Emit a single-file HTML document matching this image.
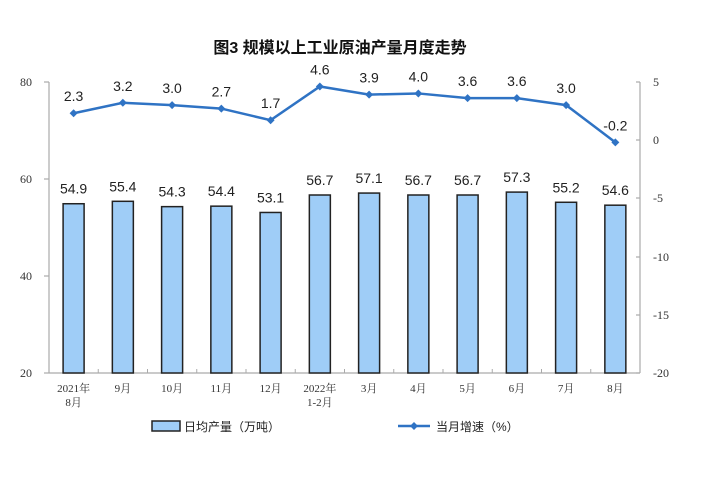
<!DOCTYPE html>
<html><head><meta charset="utf-8"><style>
body{margin:0;background:#fff}
svg text{font-family:"Liberation Sans","Noto Sans CJK SC",sans-serif}
svg .sf{font-family:"Liberation Serif","Noto Serif CJK SC",serif}
</style></head><body>
<svg width="718" height="473" xmlns="http://www.w3.org/2000/svg">
<text x="340" y="53" font-size="16" font-weight="bold" text-anchor="middle" fill="#111">图3  规模以上工业原油产量月度走势</text>
<g stroke="#aaa" stroke-width="1.2" fill="none">
<line x1="49" y1="82" x2="49" y2="373"/>
<line x1="49" y1="373" x2="640" y2="373"/>
<line x1="640" y1="82" x2="640" y2="373"/>
<line x1="44" y1="82" x2="49" y2="82"/><line x1="44" y1="179" x2="49" y2="179"/><line x1="44" y1="276" x2="49" y2="276"/><line x1="44" y1="373" x2="49" y2="373"/>
<line x1="636" y1="82" x2="640" y2="82"/><line x1="636" y1="140" x2="640" y2="140"/><line x1="636" y1="198" x2="640" y2="198"/><line x1="636" y1="257" x2="640" y2="257"/><line x1="636" y1="315" x2="640" y2="315"/><line x1="636" y1="373" x2="640" y2="373"/>
</g>
<g font-size="12" fill="#333" text-anchor="end">
<text class="sf" x="32" y="86">80</text><text class="sf" x="32" y="183">60</text><text class="sf" x="32" y="280">40</text><text class="sf" x="32" y="377">20</text>
</g>
<g font-size="12" fill="#333" text-anchor="start">
<text class="sf" x="653" y="86">5</text><text class="sf" x="653" y="144">0</text><text class="sf" x="653" y="202">-5</text><text class="sf" x="653" y="261">-10</text><text class="sf" x="653" y="319">-15</text><text class="sf" x="653" y="377">-20</text>
</g>
<g id="bars" fill="#9fcdf7" stroke="#222" stroke-width="1.5"></g>
<g id="lbl" font-size="14" fill="#222" text-anchor="middle"></g>
<g id="xl" font-size="11" fill="#333" text-anchor="middle"></g>
<polyline id="ln" fill="none" stroke="#2f73c4" stroke-width="2.5"/>
<g id="mk" fill="#2f73c4"></g>
<rect x="152" y="421" width="28" height="10" fill="#9fcdf7" stroke="#222" stroke-width="1.5"/>
<text x="184" y="431" font-size="12" fill="#222">日均产量（万吨）</text>
<line x1="398" y1="426" x2="430" y2="426" stroke="#2f73c4" stroke-width="2.5"/>
<path d="M414 422l4 4-4 4-4-4z" fill="#2f73c4"/>
<text x="436" y="431" font-size="12" fill="#222">当月增速（%）</text>
</svg>
<script>
var b=[54.9,55.4,54.3,54.4,53.1,56.7,57.1,56.7,56.7,57.3,55.2,54.6];
var g=[2.3,3.2,3.0,2.7,1.7,4.6,3.9,4.0,3.6,3.6,3.0,-0.2];
var x1=["2021年","9月","10月","11月","12月","2022年","3月","4月","5月","6月","7月","8月"];
var ns="http://www.w3.org/2000/svg",pts=[],W=49.25;
function el(p,t,a,txt){var e=document.createElementNS(ns,t);for(var k in a)e.setAttribute(k,a[k]);if(txt)e.textContent=txt;document.getElementById(p).appendChild(e);return e;}
for(var i=0;i<12;i++){var cx=73.6+W*i,y=373-(b[i]-20)*4.85;
el("bars","rect",{x:cx-10.5,y:y,width:21,height:373-y});
el("lbl","text",{x:cx,y:y-10},b[i].toFixed(1));
var ly=140-g[i]*11.64;pts.push(cx+","+ly);
el("mk","path",{d:"M"+cx+" "+(ly-4)+"l4 4-4 4-4-4z"});
el("lbl","text",{x:cx,y:ly-12},g[i].toFixed(1));
el("xl","text",{x:cx,y:392,"class":"sf"},x1[i]);
if(i<11)el("xl","line",{x1:49+W*(i+1),y1:373,x2:49+W*(i+1),y2:369,stroke:"#aaa"});}
el("xl","text",{x:73.6,y:406,"class":"sf"},"8月");el("xl","text",{x:73.6+W*5,y:406,"class":"sf"},"1-2月");
document.getElementById("ln").setAttribute("points",pts.join(" "));
</script>
</body></html>
